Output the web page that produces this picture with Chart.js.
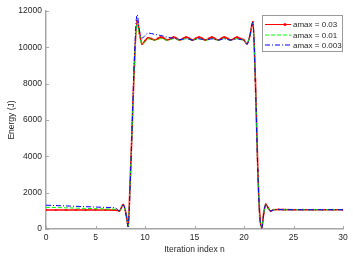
<!DOCTYPE html>
<html>
<head>
<meta charset="utf-8">
<script src="https://cdn.jsdelivr.net/npm/chart.js@4/dist/chart.umd.min.js"></script>
<style>
  body { margin: 0; background: #fff; }
  canvas { display: block; }
</style>
</head>
<body>
<canvas id="energyC" width="353" height="257"></canvas>
<script>
const iterN = [0, 1, 2, 3, 4, 5, 6, 7, 7.4, 7.8, 8.1, 8.3, 8.5, 8.7, 8.9, 9.2, 9.45, 9.7, 10.0, 10.3,
  10.65, 10.95, 11.3, 11.6, 11.95, 12.25, 12.6, 12.9, 13.2, 13.5, 13.85, 14.15, 14.5, 14.8, 15.1, 15.45,
  15.8, 16.1, 16.45, 16.75, 17.05, 17.4, 17.7, 18.0, 18.35, 18.65, 19.0, 19.3, 19.6, 19.95, 20.3, 20.6,
  20.9, 21.15, 21.4, 21.6, 21.8, 22.0, 22.2, 22.45, 22.7, 23.0, 23.5, 24, 25, 26, 27, 28, 29, 30];

const energyA03 = [1050, 1050, 1048, 1046, 1045, 1044, 1042, 1040, 990, 1340, 800, 170, 2600, 5600, 8700, 11450, 10750, 10180, 10360, 10520,
  10470, 10400, 10480, 10560, 10480, 10400, 10480, 10560, 10480, 10400, 10480, 10560, 10480, 10400, 10480, 10560,
  10480, 10400, 10480, 10560, 10480, 10400, 10480, 10560, 10480, 10400, 10480, 10560, 10480, 10420, 10200, 10650,
  11400, 8200, 3200, 700, 80, 900, 1360, 1150, 990, 1060, 1075, 1065, 1060, 1060, 1060, 1060, 1060, 1060];

const energyA01 = [1190, 1180, 1165, 1150, 1135, 1120, 1105, 1090, 1000, 1320, 780, 150, 2500, 5500, 8600, 11350, 10700, 10150, 10330, 10470,
  10440, 10390, 10430, 10480, 10430, 10390, 10430, 10480, 10430, 10390, 10430, 10480, 10430, 10390, 10430, 10480,
  10430, 10390, 10430, 10480, 10430, 10390, 10430, 10480, 10430, 10390, 10430, 10480, 10430, 10400, 10180, 10640,
  11350, 8100, 3100, 650, 70, 880, 1340, 1140, 990, 1055, 1070, 1060, 1060, 1060, 1060, 1060, 1060, 1060];

const energyA003 = [1310, 1290, 1270, 1250, 1230, 1210, 1190, 1170, 1010, 1330, 760, 120, 2400, 5600, 9000, 11800, 10900, 10500, 10650, 10780,
  10760, 10720, 10680, 10650, 10600, 10560, 10520, 10500, 10470, 10430, 10450, 10470, 10440, 10400, 10430, 10470,
  10430, 10400, 10430, 10470, 10430, 10400, 10430, 10470, 10430, 10400, 10430, 10470, 10430, 10400, 10170, 10650,
  11380, 8100, 3100, 650, 70, 880, 1340, 1140, 990, 1055, 1070, 1060, 1060, 1060, 1060, 1060, 1060, 1060];

const seriesLabels = ["amax = 0.03", "amax = 0.01", "amax = 0.003"];
const xTicks = [0, 5, 10, 15, 20, 25, 30];
const yTicks = [0, 2000, 4000, 6000, 8000, 10000, 12000];

const FONT = "'Liberation Sans', Arial, sans-serif";
const TXT = "#262626";
const AXIS = "#a6a6a6";

function pts(ys) {
  return iterN.map((x, i) => ({ x: x, y: ys[i] }));
}

// ticks inside the axes, matlab style, plus the boxed legend
const matlabBits = {
  id: "matlabBits",
  afterDraw(chart) {
    const ctx = chart.ctx;
    const a = chart.chartArea;
    const xs = chart.scales.x;
    const ys = chart.scales.y;
    ctx.save();
    ctx.strokeStyle = AXIS;
    ctx.lineWidth = 1;
    ctx.beginPath();
    xTicks.forEach((t) => {
      const px = Math.round(xs.getPixelForValue(t)) + 0.5;
      ctx.moveTo(px, a.bottom);
      ctx.lineTo(px, a.bottom - 3);
    });
    yTicks.forEach((t) => {
      const py = Math.round(ys.getPixelForValue(t)) + 0.5;
      ctx.moveTo(a.left, py);
      ctx.lineTo(a.left + 3, py);
    });
    ctx.stroke();

    // legend
    const bx = 262.5, by = 15.5, bw = 80, bh = 36;
    ctx.fillStyle = "#fff";
    ctx.fillRect(bx, by, bw, bh);
    ctx.strokeStyle = "#9a9a9a";
    ctx.strokeRect(bx, by, bw, bh);
    const rows = [24.5, 35, 45];
    chart.data.datasets.forEach((ds, i) => {
      const y = rows[i];
      ctx.strokeStyle = ds.borderColor;
      ctx.lineWidth = 1;
      ctx.setLineDash(ds.borderDash || []);
      ctx.beginPath();
      ctx.moveTo(265, y);
      ctx.lineTo(291, y);
      ctx.stroke();
      ctx.setLineDash([]);
      if (ds.pointRadius > 0) {
        ctx.fillStyle = ds.borderColor;
        ctx.beginPath();
        ctx.arc(285, y, 1.5, 0, Math.PI * 2);
        ctx.fill();
      }
      ctx.fillStyle = TXT;
      ctx.font = "8px " + FONT;
      ctx.textBaseline = "middle";
      ctx.fillText(ds.label, 293, y + 0.5);
    });
    ctx.restore();
  },
};

new Chart(document.getElementById("energyC"), {
  type: "line",
  data: {
    datasets: [
      {
        label: seriesLabels[0],
        data: pts(energyA03),
        borderColor: "#ff0000",
        backgroundColor: "#ff0000",
        borderWidth: 1.6,
        pointRadius: 1,
        pointBackgroundColor: "#ff0000",
        pointBorderWidth: 0,
        cubicInterpolationMode: "monotone",
        order: 3,
      },
      {
        label: seriesLabels[1],
        data: pts(energyA01),
        borderColor: "#00ff00",
        borderWidth: 1,
        borderDash: [4, 2],
        pointRadius: 0,
        cubicInterpolationMode: "monotone",
        order: 2,
      },
      {
        label: seriesLabels[2],
        data: pts(energyA003),
        borderColor: "#0000ff",
        borderWidth: 1,
        borderDash: [5, 2, 1, 2],
        pointRadius: 0,
        cubicInterpolationMode: "monotone",
        order: 1,
      },
    ],
  },
  options: {
    responsive: false,
    animation: false,
    devicePixelRatio: 1,
    layout: { padding: { top: 11, right: 10, left: 0, bottom: 0 } },
    plugins: {
      legend: { display: false },
      tooltip: { enabled: false },
    },
    scales: {
      x: {
        type: "linear",
        min: 0,
        max: 30,
        afterBuildTicks: (s) => { s.ticks = xTicks.map((v) => ({ value: v })); },
        afterFit: (s) => { s.height = 28; },
        grid: { display: true, drawOnChartArea: false, drawTicks: false },
        border: { color: AXIS, width: 1.5 },
        ticks: { color: TXT, font: { family: FONT, size: 8.5 }, padding: 4, maxRotation: 0, callback: (v) => String(v) },
        title: { display: true, text: "Iteration index n", color: TXT, font: { family: FONT, size: 8.5 }, padding: { top: 0, bottom: 2 } },
      },
      y: {
        min: 0,
        max: 12000,
        afterBuildTicks: (s) => { s.ticks = yTicks.map((v) => ({ value: v })); },
        afterFit: (s) => { s.width = 46; },
        grid: { display: true, drawOnChartArea: false, drawTicks: false },
        border: { color: AXIS, width: 1.5 },
        ticks: { color: TXT, font: { family: FONT, size: 8.5 }, padding: 4, callback: (v) => String(v) },
        title: { display: true, text: "Energy (J)", color: TXT, font: { family: FONT, size: 8.5 }, padding: { top: 7, bottom: 0 } },
      },
    },
  },
  plugins: [matlabBits],
});
</script>
</body>
</html>
